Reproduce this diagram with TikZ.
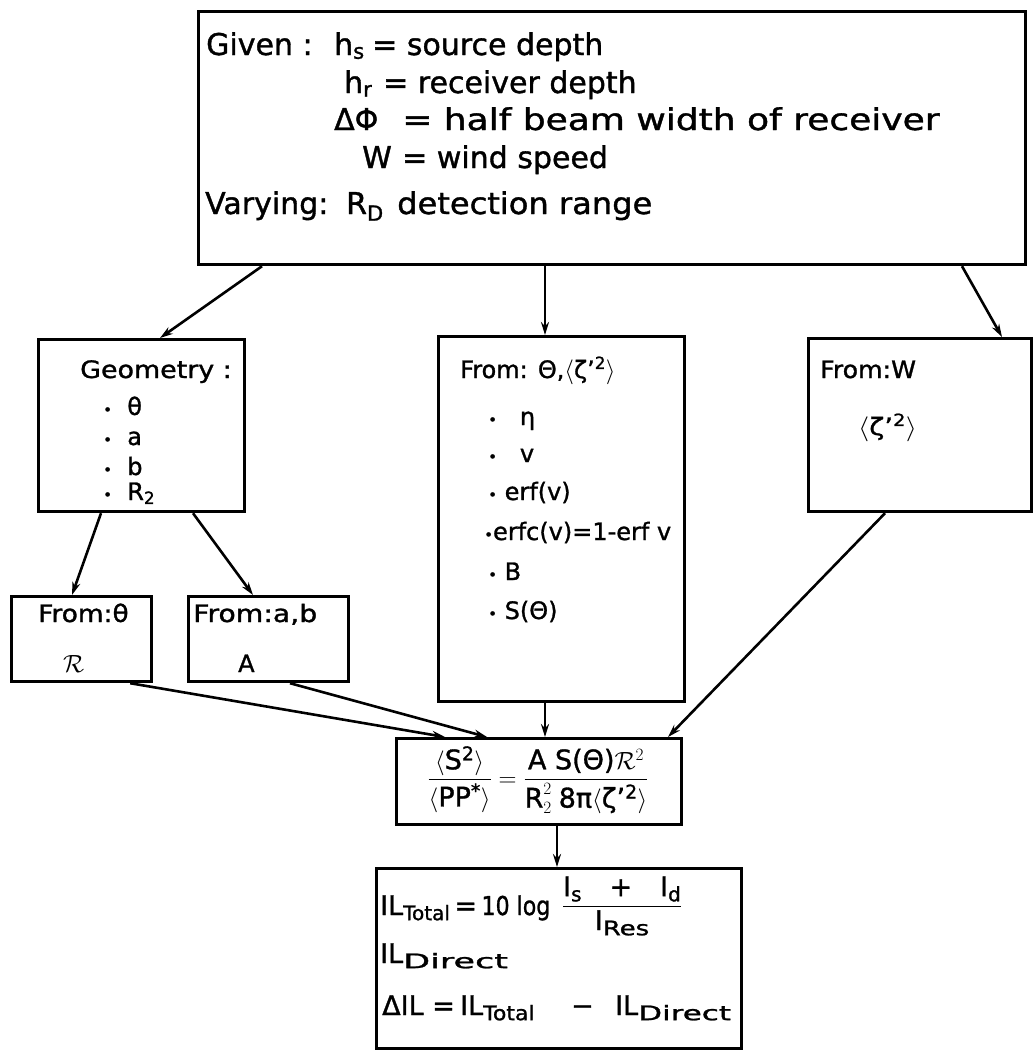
\documentclass[tikz,border=0pt]{standalone}
\usepackage{fontspec}
\usepackage{amsmath}
\setmainfont{DejaVu Sans}[FakeBold=1.2]
\usetikzlibrary{arrows.meta,calc}
\newcommand{\mybul}{{\fontsize{15}{15}\selectfont\textbullet}}
\newcommand{\lsub}[2][1]{\raisebox{-0.35ex}{\fontsize{20}{20}\selectfont\scalebox{#1}[1]{#2}}}
\tikzset{
  box/.style={draw, line width=3.2pt, inner sep=0pt, anchor=north west},
  conn/.style={line width=2.6pt, -{Stealth[length=13pt,width=8pt]}},
  big/.style={font=\fontsize{30}{34}\selectfont, anchor=base west, inner sep=0pt},
  med/.style={font=\fontsize{24}{28}\selectfont, anchor=base west, inner sep=0pt},
  bbig/.style={font=\fontsize{27}{30}\selectfont, anchor=base west, inner sep=0pt},
}
\begin{document}
\begin{tikzpicture}[x=1pt,y=-1pt]
\useasboundingbox[fill=white] (0,0) rectangle (1034,1050);
% boxes
\node[box, minimum width=827pt, minimum height=253pt] (top) at (197,10) {};
\node[box, minimum width=206pt, minimum height=172pt] (geo) at (37,338) {};
\node[box, minimum width=246pt, minimum height=365pt] (mid) at (437,335) {};
\node[box, minimum width=223pt, minimum height=173pt] (rt) at (807,337) {};
\node[box, minimum width=140pt, minimum height=85pt] (tb) at (10,595) {};
\node[box, minimum width=160pt, minimum height=85pt] (ab) at (187,595) {};
\node[box, minimum width=285pt, minimum height=86pt] (frm) at (395,737) {};
\node[box, minimum width=365pt, minimum height=180pt] (bot) at (375,867) {};
% top text
\node[big] (g1) at (206,55) {Given :};
\node[big] (g2a) at (334,55) {h\textsubscript{s}};
\node[big] (g2b) at (372,55) {= source depth};
\node[big] (g3a) at (344,93) {h\textsubscript{r}};
\node[big] (g3b) at (383,93) {= receiver depth};
\node[big] (g4a) at (334,130) {ΔΦ};
\node[big] (g4b) at (402,130) {\scalebox{1.2}[1]{= half beam width of receiver}};
\node[big] (g5a) at (362,168) {W};
\node[big] (g5b) at (402,168) {= wind speed};
\node[big] (g6a) at (205,214) {Varying:};
\node[big] (g6b) at (346,214) {R\textsubscript{D}};
\node[big] (g6c) at (397,214) {\scalebox{1.07}[1]{detection range}};
% geometry
\node[med] (ge0) at (80,378) {\scalebox{1.12}[1]{Geometry :}};
\node[med] (ge1) at (103,415) {\mybul\ \ θ};
\node[med] (ge2) at (103,445) {\mybul\ \ a};
\node[med] (ge3) at (103,475) {\mybul\ \ b};
\node[med] (ge4) at (103,500) {\mybul\ \ R\textsubscript{2}};
% middle
\node[med] (m0) at (460,378) {From: Θ,$\langle$ζ'\textsuperscript{2}$\rangle$};
\node[med] (m1) at (488,425) {\mybul\ \ \ η};
\node[med] (m2) at (488,462) {\mybul\ \ \ v};
\node[med] (m3) at (488,500) {\mybul\ erf(v)};
\node[med] (m4) at (484,540) {\mybul erfc(v)=1-erf v};
\node[med] (m5) at (488,580) {\mybul\ B};
\node[med] (m6) at (488,619) {\mybul\ S(Θ)};
% right
\node[med] (r0) at (820,378) {\scalebox{1.05}[1]{From:W}};
\node[med] (r1) at (858,435) {\scalebox{1.15}[1]{$\langle$ζ'\textsuperscript{2}$\rangle$}};
% small boxes
\node[med] (t0) at (38,622) {\scalebox{1.1}[1]{From:θ}};
\node[med] (t1) at (63,672) {$\mathcal{R}$};
\node[med] (a0) at (193,622) {\scalebox{1.18}[1]{From:a,b}};
\node[med] (a1) at (238,672) {A};
% formula
\node[font=\fontsize{27}{30}\selectfont, inner sep=0pt] (fr) at (538,780)
  {$\dfrac{\langle\text{S\textsuperscript{2}}\rangle}{\langle\text{PP\textsuperscript{*}}\rangle}
   = \dfrac{\text{A S(Θ)}\mathcal{R}^2}{\text{R}_2^2\;\text{8π}\langle\text{ζ'\textsuperscript{2}}\rangle}$};
% bottom
\node[bbig] (b1a) at (380,915) {IL\lsub{Total}\,=\,{\fontsize{26}{28}\selectfont\scalebox{0.85}[1]{10 log}}};
\node[bbig, anchor=center] (b1b) at (622,906) {$\dfrac{\text{I\lsub{s}\hspace{28pt}+\hspace{28pt}I\lsub{d}}}{\text{I\lsub[1.3]{Res}}}$};
\node[bbig] (b2) at (380,963) {IL\lsub[1.75]{Direct}};
\node[bbig] (b3a) at (382,1015) {ΔIL =};
\node[bbig] (b3b) at (460,1015) {IL\lsub[1.1]{Total}};
\node[bbig] (b3c) at (571,1015) {−};
\node[bbig] (b3d) at (615,1015) {IL\lsub[1.55]{Direct}};
% connectors
\draw[conn] ([xshift=65pt]top.south west) -- ([xshift=123pt]geo.north west);
\draw[conn] ([xshift=348pt]top.south west) -- ([xshift=108pt]mid.north west);
\draw[conn] ([xshift=765pt]top.south west) -- ([xshift=195pt]rt.north west);
\draw[conn] ([xshift=64pt]geo.south west) -- ([xshift=62pt]tb.north west);
\draw[conn] ([xshift=156pt]geo.south west) -- ([xshift=66pt]ab.north west);
\draw[conn] ([xshift=-23pt]tb.south east) -- ([xshift=50pt]frm.north west);
\draw[conn] ([xshift=103pt]ab.south west) -- ([xshift=92pt]frm.north west);
\draw[conn] ([xshift=108pt]mid.south west) -- ([xshift=150pt]frm.north west);
\draw[conn] ([xshift=78pt]rt.south west) -- ([xshift=273pt]frm.north west);
\draw[conn] ([xshift=162pt]frm.south west) -- ([xshift=182pt]bot.north west);
\end{tikzpicture}
\end{document}
